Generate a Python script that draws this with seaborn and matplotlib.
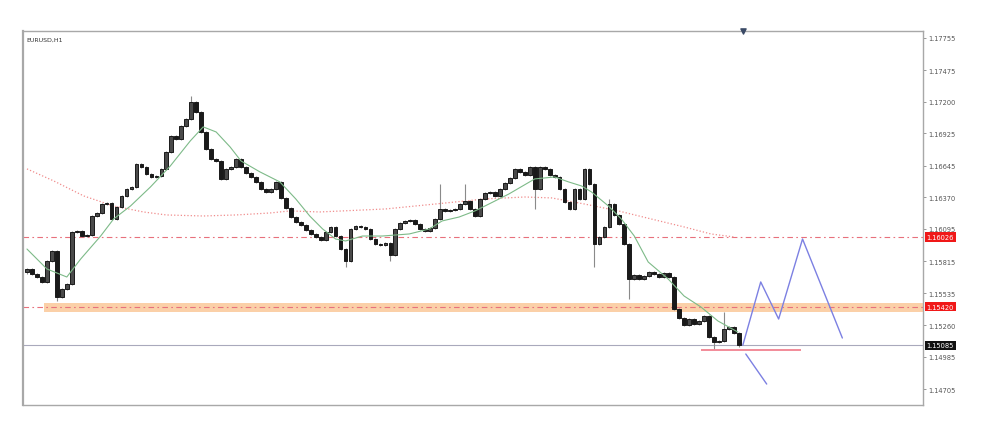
import numpy as np
import pandas as pd
import matplotlib
matplotlib.use('Agg')
import matplotlib.pyplot as plt
import matplotlib.transforms as mtransforms
import seaborn as sns

# --- data (EURUSD H1) ---
symbol = 'EURUSD,H1'
first_open = 1.15720
closes = [
    1.15748, 1.15704, 1.15678, 1.15635, 1.15817, 1.15904, 1.15504, 1.15574, 1.15617, 1.16069,
    1.16078, 1.16034, 1.16043, 1.16208, 1.16234, 1.16312, 1.16321, 1.16182, 1.16286, 1.16382,
    1.16443, 1.16460, 1.16660, 1.16634, 1.16573, 1.16547, 1.16556, 1.16617, 1.16764, 1.16903,
    1.16877, 1.16990, 1.17051, 1.17199, 1.17112, 1.16938, 1.16790, 1.16704, 1.16686, 1.16530,
    1.16617, 1.16634, 1.16704, 1.16634, 1.16582, 1.16547, 1.16504, 1.16443, 1.16417, 1.16443,
    1.16504, 1.16365, 1.16278, 1.16199, 1.16156, 1.16130, 1.16087, 1.16052, 1.16026, 1.16000,
    1.16069, 1.16113, 1.16034, 1.15921, 1.15817, 1.16095, 1.16121, 1.16113, 1.16095, 1.16008,
    1.15965, 1.15956, 1.15974, 1.15869, 1.16095, 1.16147, 1.16165, 1.16173, 1.16139, 1.16095,
    1.16078, 1.16104, 1.16182, 1.16269, 1.16252, 1.16260, 1.16269, 1.16312, 1.16339, 1.16269,
    1.16208, 1.16356, 1.16408, 1.16417, 1.16382, 1.16443, 1.16495, 1.16538, 1.16617, 1.16591,
    1.16564, 1.16634, 1.16443, 1.16634, 1.16617, 1.16564, 1.16547, 1.16443, 1.16330, 1.16269,
    1.16443, 1.16356, 1.16617, 1.16486, 1.15965, 1.16026, 1.16113, 1.16312, 1.16217, 1.16139,
    1.15965, 1.15661, 1.15695, 1.15661, 1.15687, 1.15722, 1.15704, 1.15678, 1.15713, 1.15678,
    1.15400, 1.15322, 1.15261, 1.15313, 1.15270, 1.15296, 1.15339, 1.15157, 1.15113, 1.15122,
    1.15226, 1.15244, 1.15191, 1.15085,
]
spike_highs = {33: 1.17251, 83: 1.16486, 88: 1.16486, 117: 1.16356, 140: 1.15374}
spike_lows = {6: 1.15469, 64: 1.15765, 73: 1.15817, 102: 1.16269, 114: 1.15765,
              121: 1.15487, 138: 1.15052}
wick = 0.00012

ma_fast_bar = [0, 4, 8, 10.8, 14.8, 17.4, 20.8, 24.8, 28.8, 32.8, 35.4, 38, 40.8, 43, 46.8,
               50.8, 54, 56.8, 59.4, 62, 64, 67.4, 71.4, 76.8, 80.8, 83.4, 86.8, 90, 92.8,
               96.8, 102, 106, 108.8, 111.4, 113.4, 116.8, 119.4, 122, 124.8, 128.8, 132,
               135.4, 138.8, 142.8]
ma_fast = [1.15921, 1.15748, 1.15678, 1.15835, 1.16034, 1.16182, 1.16295, 1.16460, 1.16643,
           1.16860, 1.16982, 1.16938, 1.16808, 1.16686, 1.16591, 1.16504, 1.16356, 1.16208,
           1.16095, 1.16008, 1.15991, 1.16034, 1.16034, 1.16052, 1.16095, 1.16165, 1.16199,
           1.16252, 1.16312, 1.16399, 1.16530, 1.16547, 1.16504, 1.16469, 1.16417, 1.16295,
           1.16182, 1.16034, 1.15808, 1.15661, 1.15513, 1.15417, 1.15296, 1.15200]

ma_slow_bar = [0, 5.4, 11.4, 17.4, 23.4, 28, 35.4, 42, 48.8, 52.8, 58.8, 72, 82, 92, 100,
               105.4, 112, 118.8, 125.4, 132, 137.4, 142]
ma_slow = [1.16617, 1.16512, 1.16382, 1.16295, 1.16243, 1.16217, 1.16208, 1.16217, 1.16234,
           1.16252, 1.16243, 1.16269, 1.16312, 1.16356, 1.16373, 1.16365, 1.16312, 1.16252,
           1.16182, 1.16113, 1.16052, 1.16026]

level_upper = 1.16026
level_lower = 1.15420
zone_low, zone_high = 1.15374, 1.15452
zone_start_bar = 3.4
bid = 1.15085
swing_low = 1.15044
swing_low_bars = [135.4, 155.4]

proj_bull_bar = [143.8, 147.4, 151.0, 155.8, 163.8]
proj_bull = [1.15085, 1.15635, 1.15313, 1.16008, 1.15148]
proj_bear_bar = [144.4, 148.6]
proj_bear = [1.15009, 1.14748]

price_ticks = [1.17755, 1.17475, 1.17200, 1.16925, 1.16645, 1.16370,
               1.16095, 1.15815, 1.15535, 1.15260, 1.14985, 1.14705]
y_min, y_max = 1.14566, 1.17816
x_max = 180

# --- build OHLC table ---
df = pd.DataFrame({'close': closes})
df['bar'] = np.arange(len(df))
df['open'] = [first_open] + closes[:-1]
df['high'] = df[['open', 'close']].max(axis=1) + wick
df['low'] = df[['open', 'close']].min(axis=1) - wick
for k, v in spike_highs.items():
    df.loc[k, 'high'] = v
for k, v in spike_lows.items():
    df.loc[k, 'low'] = v

sns.set_theme(style='white')
plt.rcParams['font.family'] = ['DejaVu Sans']

fig = plt.figure(figsize=(10, 4.31), dpi=100)
ax = fig.add_axes([0.023, 0.058, 0.900, 0.868])

# zone + levels
ax.fill_between([zone_start_bar, x_max], zone_low, zone_high, color='#FBD0A8', lw=0, zorder=1)
for lv in (level_upper, level_lower):
    ax.axhline(lv, color='#E8707C', lw=0.8, ls=(0, (5, 3, 1.5, 3)), zorder=2)
ax.axhline(bid, color='#A9A9BC', lw=0.8, zorder=2)

# moving averages
sns.lineplot(x=ma_slow_bar, y=ma_slow, ax=ax, color='#F08C8C', lw=0.9, ls=':', zorder=2)
sns.lineplot(x=ma_fast_bar, y=ma_fast, ax=ax, color='#7DBA88', lw=0.8, zorder=4)

# candles
up = df['close'] >= df['open']
ax.vlines(df['bar'], df['low'], df['high'], color='#8A8A8A', lw=0.8, zorder=3)
body = (df['close'] - df['open']).abs().clip(lower=0.00004)
bottom = df[['open', 'close']].min(axis=1)
ax.bar(df['bar'][up], body[up], bottom=bottom[up], width=0.75,
       color='#4A4A4A', edgecolor='#1A1A1A', lw=0.7, zorder=3)
ax.bar(df['bar'][~up], body[~up], bottom=bottom[~up], width=0.75,
       color='#1A1A1A', edgecolor='#1A1A1A', lw=0.7, zorder=3)

# drawings
ax.hlines(swing_low, swing_low_bars[0], swing_low_bars[1], color='#F07888', lw=1.2, zorder=5)
sns.lineplot(x=proj_bull_bar, y=proj_bull, ax=ax, sort=False, color='#7C80E2', lw=1.0, zorder=5)
sns.lineplot(x=proj_bear_bar, y=proj_bear, ax=ax, sort=False, color='#7C80E2', lw=1.0, zorder=5)
ax.scatter([proj_bull_bar[0]], [y_max], marker='v', s=14, color='#3A4A66', clip_on=False, zorder=6)

ax.set_xlim(-0.8, x_max)
ax.set_ylim(y_min, y_max)
ax.set_xticks([])
ax.yaxis.tick_right()
ax.set_yticks(price_ticks)
ax.set_yticklabels([f'{t:.5f}' for t in price_ticks])
ax.tick_params(axis='y', right=True, length=2, width=0.6, color='#888888',
               labelsize=4.8, labelcolor='#555555', pad=2)
ax.set_xlabel('')
ax.set_ylabel('')
for s in ax.spines.values():
    s.set_color('#A8A8A8')
    s.set_linewidth(1.0)
ax.spines['left'].set_linewidth(1.6)

ax.text(0.004, 0.985, symbol, transform=ax.transAxes, fontsize=4.5, va='top', ha='left',
        color='#333333')

trans = mtransforms.blended_transform_factory(ax.transAxes, ax.transData)
for val, fc in ((level_upper, '#F01818'), (level_lower, '#F01818'), (bid, '#111111')):
    ax.text(1.004, val, f'{val:.5f}', transform=trans, fontsize=4.8, color='white',
            va='center', ha='left',
            bbox=dict(boxstyle='square,pad=0.25', fc=fc, ec='none'))

fig.savefig('out.png', dpi=100)
